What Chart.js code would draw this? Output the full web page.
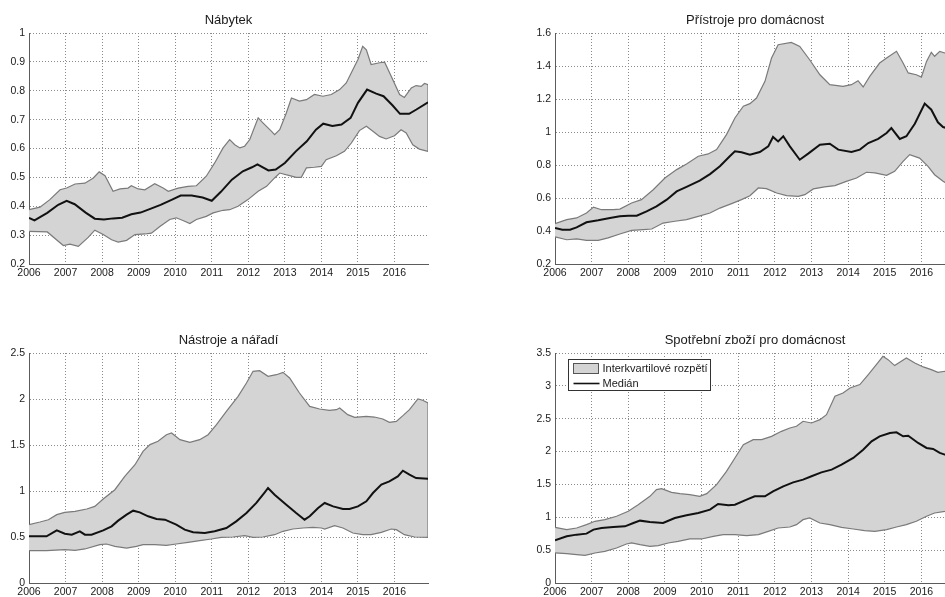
<!DOCTYPE html>
<html>
<head>
<meta charset="utf-8">
<script src="https://cdn.jsdelivr.net/npm/chart.js@4.4.1/dist/chart.umd.min.js"></script>
<style>
  html, body { margin: 0; padding: 0; background: #fff; overflow: hidden; }
  #wrap { position: relative; width: 945px; height: 597px; overflow: hidden; background: #fff; }
  canvas { position: absolute; }
</style>
</head>
<body>
<div id="wrap">
  <canvas id="nabytek" width="470" height="290" style="left:0;top:0"></canvas>
  <canvas id="pristroje" width="470" height="290" style="left:520px;top:0"></canvas>
  <canvas id="nastroje" width="470" height="307" style="left:0;top:290px"></canvas>
  <canvas id="spotrebni" width="470" height="307" style="left:520px;top:290px"></canvas>
</div>
<script>
// Monthly series, January 2006 – December 2016 (x in decimal years)
const periodStart = 2006;
const periodEnd = 2016 + 11 / 12;
const yearTicks = [2006, 2007, 2008, 2009, 2010, 2011, 2012, 2013, 2014, 2015, 2016];

// Nábytek
const nabytekTicks = [0.2, 0.3, 0.4, 0.5, 0.6, 0.7, 0.8, 0.9, 1];
const nabytekMedian = [[2006.00,0.360],[2006.15,0.351],[2006.50,0.377],[2006.80,0.405],[2007.03,0.419],[2007.25,0.407],[2007.55,0.378],[2007.80,0.357],[2008.05,0.354],[2008.30,0.358],[2008.55,0.360],[2008.80,0.372],[2009.05,0.378],[2009.30,0.390],[2009.60,0.405],[2009.90,0.422],[2010.15,0.437],[2010.45,0.437],[2010.75,0.430],[2011.00,0.419],[2011.25,0.450],[2011.55,0.492],[2011.85,0.521],[2012.10,0.535],[2012.25,0.545],[2012.55,0.524],[2012.75,0.527],[2013.00,0.550],[2013.30,0.590],[2013.60,0.625],[2013.85,0.665],[2014.05,0.686],[2014.30,0.678],[2014.55,0.683],[2014.80,0.706],[2015.00,0.758],[2015.25,0.804],[2015.50,0.790],[2015.70,0.781],[2015.95,0.749],[2016.15,0.720],[2016.40,0.720],[2016.60,0.735],[2016.917,0.760]];
const nabytekQ75 = [[2006.00,0.388],[2006.30,0.397],[2006.57,0.423],[2006.85,0.457],[2007.03,0.463],[2007.26,0.477],[2007.53,0.480],[2007.76,0.498],[2007.92,0.519],[2008.08,0.506],[2008.30,0.452],[2008.49,0.460],[2008.71,0.463],[2008.80,0.471],[2008.99,0.460],[2009.17,0.457],[2009.44,0.478],[2009.67,0.463],[2009.81,0.452],[2010.08,0.463],[2010.35,0.469],[2010.58,0.471],[2010.85,0.504],[2011.08,0.550],[2011.31,0.602],[2011.49,0.631],[2011.63,0.613],[2011.77,0.602],[2011.90,0.608],[2012.04,0.631],[2012.27,0.706],[2012.40,0.689],[2012.63,0.660],[2012.72,0.648],[2012.86,0.665],[2013.04,0.723],[2013.18,0.775],[2013.40,0.764],[2013.59,0.769],[2013.81,0.787],[2014.04,0.781],[2014.27,0.787],[2014.50,0.804],[2014.68,0.827],[2014.86,0.873],[2015.00,0.908],[2015.13,0.954],[2015.23,0.942],[2015.36,0.891],[2015.59,0.897],[2015.73,0.899],[2015.91,0.850],[2016.14,0.787],[2016.27,0.777],[2016.46,0.810],[2016.59,0.818],[2016.73,0.815],[2016.82,0.825],[2016.917,0.821]];
const nabytekQ25 = [[2006.00,0.313],[2006.50,0.311],[2006.80,0.279],[2006.94,0.264],[2007.12,0.269],[2007.35,0.261],[2007.62,0.292],[2007.80,0.317],[2008.03,0.302],[2008.26,0.284],[2008.44,0.276],[2008.67,0.282],[2008.90,0.302],[2009.17,0.304],[2009.35,0.307],[2009.58,0.330],[2009.85,0.354],[2010.03,0.360],[2010.26,0.348],[2010.40,0.340],[2010.58,0.354],[2010.85,0.365],[2011.04,0.377],[2011.31,0.386],[2011.49,0.388],[2011.72,0.400],[2011.99,0.423],[2012.27,0.452],[2012.50,0.469],[2012.72,0.498],[2012.86,0.515],[2013.13,0.506],[2013.31,0.500],[2013.45,0.500],[2013.59,0.533],[2013.81,0.535],[2014.00,0.538],[2014.13,0.561],[2014.41,0.575],[2014.63,0.590],[2014.82,0.619],[2015.04,0.662],[2015.23,0.677],[2015.41,0.660],[2015.59,0.642],[2015.77,0.633],[2016.00,0.644],[2016.18,0.665],[2016.32,0.654],[2016.50,0.613],[2016.68,0.598],[2016.917,0.590]];

// Přístroje pro domácnost
const pristrojeTicks = [0.2, 0.4, 0.6, 0.8, 1, 1.2, 1.4, 1.6];
const pristrojeMedian = [[2006.00,0.418],[2006.20,0.408],[2006.41,0.408],[2006.59,0.422],[2006.86,0.453],[2007.18,0.465],[2007.50,0.479],[2007.77,0.489],[2008.00,0.493],[2008.23,0.493],[2008.50,0.519],[2008.77,0.549],[2009.05,0.590],[2009.32,0.640],[2009.59,0.667],[2009.95,0.705],[2010.23,0.745],[2010.50,0.792],[2010.77,0.853],[2010.91,0.883],[2011.09,0.877],[2011.32,0.863],[2011.59,0.879],[2011.82,0.913],[2011.95,0.970],[2012.09,0.943],[2012.23,0.974],[2012.41,0.913],[2012.68,0.832],[2012.91,0.869],[2013.23,0.923],[2013.50,0.929],[2013.73,0.893],[2014.09,0.879],[2014.32,0.893],[2014.55,0.933],[2014.82,0.958],[2015.05,0.994],[2015.18,1.024],[2015.41,0.958],[2015.59,0.974],[2015.82,1.050],[2016.09,1.172],[2016.27,1.135],[2016.45,1.059],[2016.59,1.030],[2016.75,1.020],[2016.917,1.000]];
const pristrojeQ75 = [[2006.00,0.444],[2006.32,0.469],[2006.59,0.479],[2006.86,0.509],[2007.05,0.545],[2007.27,0.529],[2007.59,0.529],[2007.77,0.533],[2008.09,0.570],[2008.36,0.590],[2008.68,0.650],[2009.00,0.721],[2009.32,0.772],[2009.59,0.806],[2009.91,0.853],[2010.18,0.867],[2010.41,0.893],[2010.68,0.984],[2010.91,1.085],[2011.14,1.156],[2011.32,1.172],[2011.50,1.206],[2011.73,1.307],[2011.91,1.448],[2012.09,1.529],[2012.45,1.543],[2012.68,1.519],[2012.95,1.438],[2013.23,1.347],[2013.50,1.287],[2013.86,1.277],[2014.09,1.287],[2014.27,1.311],[2014.41,1.273],[2014.59,1.337],[2014.86,1.418],[2015.05,1.448],[2015.32,1.489],[2015.50,1.418],[2015.64,1.358],[2015.86,1.347],[2016.00,1.333],[2016.14,1.428],[2016.27,1.483],[2016.36,1.459],[2016.50,1.489],[2016.64,1.479],[2016.78,1.470],[2016.917,1.460]];
const pristrojeQ25 = [[2006.00,0.364],[2006.32,0.347],[2006.59,0.352],[2006.86,0.343],[2007.18,0.343],[2007.45,0.358],[2007.77,0.382],[2008.09,0.404],[2008.41,0.408],[2008.64,0.412],[2008.95,0.448],[2009.27,0.459],[2009.59,0.469],[2009.91,0.489],[2010.23,0.509],[2010.50,0.539],[2010.82,0.566],[2011.09,0.590],[2011.32,0.614],[2011.55,0.661],[2011.77,0.657],[2012.05,0.630],[2012.32,0.614],[2012.64,0.610],[2012.82,0.620],[2013.05,0.655],[2013.36,0.667],[2013.64,0.675],[2013.95,0.701],[2014.23,0.721],[2014.50,0.756],[2014.73,0.752],[2015.05,0.737],[2015.27,0.762],[2015.50,0.822],[2015.68,0.863],[2015.95,0.842],[2016.18,0.792],[2016.36,0.741],[2016.59,0.701],[2016.75,0.680],[2016.917,0.670]];

// Nástroje a nářadí
const nastrojeTicks = [0, 0.5, 1, 1.5, 2, 2.5];
const nastrojeMedian = [[2006.00,0.507],[2006.48,0.507],[2006.76,0.572],[2006.98,0.536],[2007.17,0.525],[2007.39,0.562],[2007.53,0.525],[2007.71,0.525],[2008.03,0.572],[2008.26,0.616],[2008.44,0.678],[2008.67,0.743],[2008.85,0.786],[2009.03,0.768],[2009.26,0.725],[2009.49,0.696],[2009.72,0.688],[2010.03,0.634],[2010.26,0.580],[2010.49,0.551],[2010.81,0.543],[2011.08,0.562],[2011.40,0.598],[2011.67,0.670],[2011.95,0.761],[2012.22,0.870],[2012.45,0.986],[2012.54,1.033],[2012.72,0.960],[2013.04,0.851],[2013.31,0.761],[2013.54,0.688],[2013.68,0.725],[2013.91,0.815],[2014.09,0.870],[2014.32,0.833],[2014.59,0.804],[2014.77,0.804],[2015.00,0.833],[2015.23,0.888],[2015.41,0.978],[2015.64,1.069],[2015.86,1.105],[2016.09,1.159],[2016.23,1.221],[2016.41,1.178],[2016.59,1.141],[2016.917,1.134]];
const nastrojeQ75 = [[2006.00,0.634],[2006.30,0.663],[2006.53,0.688],[2006.76,0.743],[2006.98,0.768],[2007.26,0.779],[2007.58,0.804],[2007.80,0.833],[2008.03,0.913],[2008.35,1.014],[2008.62,1.159],[2008.90,1.286],[2009.12,1.431],[2009.31,1.504],[2009.53,1.540],[2009.76,1.612],[2009.90,1.630],[2010.13,1.558],[2010.40,1.529],[2010.67,1.558],[2010.90,1.612],[2011.13,1.721],[2011.40,1.866],[2011.72,2.029],[2011.95,2.174],[2012.13,2.301],[2012.31,2.308],[2012.54,2.246],[2012.77,2.264],[2012.95,2.290],[2013.13,2.228],[2013.40,2.065],[2013.68,1.920],[2013.95,1.891],[2014.22,1.877],[2014.41,1.884],[2014.50,1.902],[2014.72,1.830],[2014.91,1.801],[2015.23,1.812],[2015.45,1.804],[2015.68,1.783],[2015.86,1.746],[2016.05,1.757],[2016.23,1.819],[2016.41,1.884],[2016.64,2.000],[2016.77,1.986],[2016.917,1.957]];
const nastrojeQ25 = [[2006.00,0.351],[2006.48,0.351],[2006.98,0.362],[2007.26,0.355],[2007.53,0.370],[2007.94,0.417],[2008.12,0.424],[2008.35,0.399],[2008.67,0.380],[2008.94,0.399],[2009.12,0.417],[2009.44,0.417],[2009.76,0.409],[2010.03,0.424],[2010.35,0.442],[2010.67,0.460],[2010.99,0.478],[2011.26,0.496],[2011.58,0.500],[2011.90,0.514],[2012.13,0.496],[2012.40,0.500],[2012.72,0.525],[2012.95,0.562],[2013.22,0.587],[2013.50,0.598],[2013.77,0.605],[2014.00,0.598],[2014.09,0.587],[2014.36,0.623],[2014.59,0.598],[2014.86,0.543],[2015.13,0.525],[2015.36,0.525],[2015.64,0.551],[2015.91,0.587],[2016.05,0.580],[2016.27,0.525],[2016.55,0.500],[2016.917,0.496]];

// Spotřební zboží pro domácnost
const spotrebniTicks = [0, 0.5, 1, 1.5, 2, 2.5, 3, 3.5];
const spotrebniMedian = [[2006.00,0.649],[2006.32,0.710],[2006.59,0.736],[2006.86,0.751],[2007.05,0.812],[2007.27,0.837],[2007.59,0.852],[2007.91,0.862],[2008.14,0.913],[2008.32,0.949],[2008.59,0.928],[2008.95,0.913],[2009.27,0.989],[2009.59,1.030],[2009.91,1.065],[2010.23,1.116],[2010.45,1.202],[2010.73,1.182],[2010.91,1.192],[2011.23,1.268],[2011.45,1.319],[2011.73,1.319],[2011.95,1.395],[2012.23,1.471],[2012.50,1.532],[2012.77,1.573],[2013.00,1.624],[2013.27,1.684],[2013.55,1.725],[2013.82,1.801],[2014.14,1.903],[2014.41,2.029],[2014.64,2.156],[2014.86,2.232],[2015.14,2.283],[2015.32,2.293],[2015.50,2.232],[2015.64,2.242],[2015.91,2.131],[2016.14,2.055],[2016.32,2.040],[2016.50,1.979],[2016.64,1.953],[2016.78,1.930],[2016.917,1.900]];
const spotrebniQ75 = [[2006.00,0.847],[2006.32,0.812],[2006.59,0.837],[2006.86,0.888],[2007.09,0.939],[2007.36,0.964],[2007.68,1.015],[2008.00,1.091],[2008.27,1.192],[2008.59,1.319],[2008.77,1.421],[2008.91,1.436],[2009.18,1.380],[2009.41,1.360],[2009.68,1.344],[2009.95,1.319],[2010.14,1.360],[2010.41,1.497],[2010.68,1.700],[2010.91,1.903],[2011.14,2.106],[2011.41,2.182],[2011.64,2.182],[2011.91,2.232],[2012.18,2.308],[2012.41,2.359],[2012.59,2.385],[2012.77,2.461],[2013.00,2.435],[2013.23,2.486],[2013.41,2.562],[2013.64,2.841],[2013.86,2.892],[2014.05,2.968],[2014.32,3.019],[2014.55,3.171],[2014.77,3.323],[2014.95,3.450],[2015.09,3.399],[2015.27,3.308],[2015.45,3.374],[2015.59,3.425],[2015.82,3.349],[2016.05,3.288],[2016.27,3.247],[2016.45,3.206],[2016.64,3.222],[2016.78,3.200],[2016.917,3.170]];
const spotrebniQ25 = [[2006.00,0.457],[2006.32,0.446],[2006.59,0.431],[2006.82,0.421],[2007.09,0.457],[2007.36,0.482],[2007.68,0.533],[2007.95,0.594],[2008.09,0.609],[2008.32,0.583],[2008.59,0.558],[2008.82,0.568],[2009.09,0.609],[2009.36,0.634],[2009.68,0.670],[2010.00,0.670],[2010.32,0.710],[2010.59,0.736],[2010.91,0.736],[2011.23,0.720],[2011.55,0.736],[2011.82,0.786],[2012.09,0.837],[2012.41,0.852],[2012.59,0.888],[2012.77,0.964],[2012.95,0.989],[2013.23,0.913],[2013.50,0.888],[2013.82,0.847],[2014.14,0.822],[2014.45,0.797],[2014.73,0.786],[2015.05,0.812],[2015.32,0.852],[2015.59,0.888],[2015.86,0.939],[2016.14,1.015],[2016.36,1.065],[2016.64,1.091],[2016.78,1.110],[2016.917,1.130]];

const legendLabels = ['Interkvartilové rozpětí', 'Medián'];

const FONT = '"Liberation Sans", Arial, Helvetica, sans-serif';
const BAND = '#d4d4d4';
const EDGE = '#7a7a7a';
const TEXT = '#1a1a1a';

// Panel heading centred over the plotting area
const panelTitle = {
  id: 'panelTitle',
  afterDraw(chart, args, opts) {
    if (!opts || !opts.text) return;
    const { ctx, chartArea: a } = chart;
    ctx.save();
    ctx.font = '13px ' + FONT;
    ctx.fillStyle = TEXT;
    ctx.textAlign = 'center';
    ctx.textBaseline = 'middle';
    ctx.fillText(opts.text, (a.left + a.right) / 2, a.top - 13);
    ctx.restore();
  }
};

// Boxed key in the upper-left corner of the plotting area
const boxedKey = {
  id: 'boxedKey',
  afterDraw(chart, args, opts) {
    if (!opts || !opts.show) return;
    const { ctx, chartArea: a } = chart;
    const x = Math.round(a.left + 13) + 0.5;
    const y = Math.round(a.top + 6) + 0.5;
    const w = 142, h = 31;
    ctx.save();
    ctx.fillStyle = '#fff';
    ctx.fillRect(x, y, w, h);
    ctx.strokeStyle = '#333';
    ctx.lineWidth = 1;
    ctx.strokeRect(x, y, w, h);
    // band swatch
    ctx.fillStyle = BAND;
    ctx.fillRect(x + 5, y + 4, 25, 10);
    ctx.strokeStyle = '#555';
    ctx.strokeRect(x + 5, y + 4, 25, 10);
    // median swatch
    ctx.strokeStyle = '#111';
    ctx.lineWidth = 1.6;
    ctx.beginPath();
    ctx.moveTo(x + 5, y + 24);
    ctx.lineTo(x + 31, y + 24);
    ctx.stroke();
    ctx.font = '11px ' + FONT;
    ctx.fillStyle = TEXT;
    ctx.textAlign = 'left';
    ctx.textBaseline = 'middle';
    ctx.fillText(legendLabels[0], x + 34, y + 9);
    ctx.fillText(legendLabels[1], x + 34, y + 24);
    ctx.restore();
  }
};

const toXY = (pairs) => pairs.map(([x, y]) => ({ x, y }));

function drawPanel(id, title, yTicks, q75, q25, median, frame, showKey) {
  const last = (pairs) => pairs[pairs.length - 1][1];
  const datasets = [
    { // lower quartile
      data: toXY(q25), borderColor: EDGE, borderWidth: 1.2,
      pointRadius: 0, fill: false, order: 1, tension: 0
    },
    { // upper quartile, filled down to the lower quartile
      data: toXY(q75), borderColor: EDGE, borderWidth: 1.2,
      backgroundColor: BAND, pointRadius: 0, fill: '-1', order: 2, tension: 0
    },
    { // closing edge of the band at the last month
      data: [{ x: periodEnd, y: last(q25) }, { x: periodEnd, y: last(q75) }],
      borderColor: EDGE, borderWidth: 1.2, pointRadius: 0, fill: false, order: 1
    },
    { // median
      data: toXY(median), borderColor: '#111', borderWidth: 2,
      pointRadius: 0, fill: false, order: 0, tension: 0
    }
  ];

  const gridCommon = { color: '#8a8a8a', lineWidth: 1, drawTicks: false };
  const borderCommon = { display: true, color: '#5c5c5c', width: 1, dash: [1, 2] };

  new Chart(document.getElementById(id), {
    type: 'line',
    data: { datasets },
    plugins: [panelTitle, boxedKey],
    options: {
      responsive: false,
      animation: false,
      events: [],
      layout: { padding: { top: frame.top, right: frame.right, left: 0, bottom: 0 } },
      scales: {
        x: {
          type: 'linear',
          min: periodStart,
          max: periodEnd,
          afterBuildTicks: (s) => { s.ticks = yearTicks.map(v => ({ value: v })); },
          afterFit: (s) => { s.height = frame.xHeight; },
          grid: gridCommon,
          border: borderCommon,
          ticks: {
            padding: 3,
            color: TEXT,
            font: { family: FONT, size: 10.5 },
            maxRotation: 0,
            autoSkip: false,
            callback: (v) => String(v)
          }
        },
        y: {
          type: 'linear',
          min: yTicks[0],
          max: yTicks[yTicks.length - 1],
          afterBuildTicks: (s) => { s.ticks = yTicks.map(v => ({ value: v })); },
          afterFit: (s) => { s.width = frame.yWidth; },
          grid: gridCommon,
          border: borderCommon,
          ticks: {
            padding: 4,
            color: TEXT,
            font: { family: FONT, size: 10.5 },
            autoSkip: false,
            callback: (v) => String(+Number(v).toFixed(2))
          }
        }
      },
      plugins: {
        legend: { display: false },
        tooltip: { enabled: false },
        title: { display: false },
        panelTitle: { text: title },
        boxedKey: { show: showKey }
      }
    }
  });
}

const topFrameL = { top: 33, right: 42, yWidth: 29, xHeight: 26 };
const topFrameR = { top: 33, right: 35, yWidth: 35, xHeight: 26 };
const botFrameL = { top: 63, right: 42, yWidth: 29, xHeight: 14 };
const botFrameR = { top: 63, right: 35, yWidth: 35, xHeight: 14 };

drawPanel('nabytek', 'Nábytek', nabytekTicks, nabytekQ75, nabytekQ25, nabytekMedian, topFrameL, false);
drawPanel('pristroje', 'Přístroje pro domácnost', pristrojeTicks, pristrojeQ75, pristrojeQ25, pristrojeMedian, topFrameR, false);
drawPanel('nastroje', 'Nástroje a nářadí', nastrojeTicks, nastrojeQ75, nastrojeQ25, nastrojeMedian, botFrameL, false);
drawPanel('spotrebni', 'Spotřební zboží pro domácnost', spotrebniTicks, spotrebniQ75, spotrebniQ25, spotrebniMedian, botFrameR, true);
</script>
</body>
</html>
